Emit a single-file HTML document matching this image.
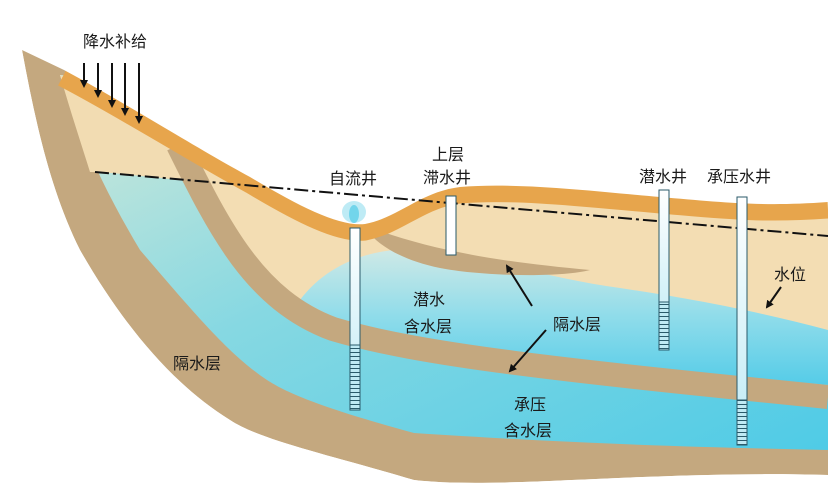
<!DOCTYPE html>
<html><head><meta charset="utf-8"><style>
html,body{margin:0;padding:0;background:#fff;}
svg{display:block;}
text{font-family:"Liberation Sans","Noto Sans CJK SC",sans-serif;fill:#1a1a1a;}
</style></head><body>
<svg width="828" height="500" viewBox="0 0 828 500" xmlns="http://www.w3.org/2000/svg">
<defs>
<linearGradient id="lb" x1="0" y1="0" x2="1" y2="1">
<stop offset="0" stop-color="#d6ead8"/><stop offset="0.45" stop-color="#86d8e2"/><stop offset="1" stop-color="#4fcbe6"/>
</linearGradient>
<linearGradient id="ub" x1="0" y1="0" x2="0" y2="1">
<stop offset="0" stop-color="#cfe9e6"/><stop offset="0.5" stop-color="#8fdcea"/><stop offset="1" stop-color="#55cce8"/>
</linearGradient>
<linearGradient id="well" x1="0" y1="0" x2="0" y2="1">
<stop offset="0" stop-color="#ffffff"/><stop offset="1" stop-color="#bdeaf5"/>
</linearGradient>
<pattern id="scr" width="10" height="4" patternUnits="userSpaceOnUse">
<rect width="10" height="4" fill="#bfeaf4"/><line x1="0" y1="0.5" x2="10" y2="0.5" stroke="#2a5a6a" stroke-width="1"/>
</pattern>
<marker id="ah" markerWidth="8" markerHeight="8" refX="6" refY="4" orient="auto" markerUnits="userSpaceOnUse">
<path d="M0,0 L8,4 L0,8 Z" fill="#111"/>
</marker>
</defs>
<path d="M22,50 L828,150 L828,475 C650,470 500,490 414,480 C330,455 260,440 230,420 C170,383 120,320 80,250 C50,190 35,120 22,50 Z" fill="#c4a87f"/>
<path d="M60,75 L828,150 L828,450 C700,447 600,445 414,433 C330,410 290,395 267,380 C230,355 200,320 140,250 C110,200 80,140 60,75 Z" fill="url(#lb)"/>
<path d="M60,75 L200,150 C190,160 185,170 180,180 C140,176 110,172 90,172 C80,140 70,110 60,75 Z" fill="#f2dcb2"/>
<path d="M190,150 C230,230 260,300 333,317 C420,345 560,360 828,385 L828,140 L190,140 Z" fill="#f3ddb3"/>
<path d="M300,300 C330,260 380,245 430,250 C500,262 560,280 620,288 C700,300 760,312 828,330 L828,385 C560,360 420,345 333,317 Z" fill="url(#ub)"/>
<path d="M178,145 C220,230 255,300 333,329 C420,355 560,370 828,397" fill="none" stroke="#c4a87f" stroke-width="24"/>
<path d="M372,228 C430,250 500,262 590,270 C560,278 480,276 440,268 C410,262 385,250 372,236 Z" fill="#c4a87f"/>
<path d="M62,78 C120,108 200,158 250,185 C300,215 340,235 365,232 C400,225 420,200 460,195 C520,190 600,200 660,205 C720,210 760,215 828,210" fill="none" stroke="#e7a54c" stroke-width="17"/>
<path d="M22,50 L64,70 C120,100 200,150 250,177 C300,207 340,227 365,224 C400,217 420,192 460,187 C520,182 600,192 660,197 C720,202 760,207 828,202 L828,0 L0,0 L0,500 L828,500 L828,475 C650,470 500,490 414,480 C330,455 260,440 230,420 C170,383 120,320 80,250 C50,190 35,120 22,50 Z" fill="#fff"/>
<line x1="95" y1="172" x2="828" y2="236" stroke="#111" stroke-width="2" stroke-dasharray="14,4,3,4"/>
<ellipse cx="354" cy="212" rx="12" ry="11" fill="#aee6f2" opacity="0.8"/>
<ellipse cx="354" cy="214" rx="5" ry="9" fill="#5fd0e8" opacity="0.8"/>
<rect x="350" y="228" width="10" height="182" fill="url(#well)" stroke="#2a5a6a" stroke-width="1"/>
<rect x="350" y="345" width="10" height="65" fill="url(#scr)" stroke="#2a5a6a" stroke-width="1"/>
<rect x="446" y="196" width="10" height="59" fill="#fff" stroke="#2a5a6a" stroke-width="1"/>
<rect x="659" y="190" width="10" height="160" fill="url(#well)" stroke="#2a5a6a" stroke-width="1"/>
<rect x="659" y="302" width="10" height="48" fill="url(#scr)" stroke="#2a5a6a" stroke-width="1"/>
<rect x="737" y="197" width="10" height="248" fill="url(#well)" stroke="#2a5a6a" stroke-width="1"/>
<rect x="737" y="400" width="10" height="45" fill="url(#scr)" stroke="#2a5a6a" stroke-width="1"/>
<g stroke="#111" stroke-width="2" marker-end="url(#ah)">
<line x1="84" y1="63" x2="84" y2="86"/>
<line x1="98" y1="63" x2="98" y2="96"/>
<line x1="112" y1="63" x2="112" y2="106"/>
<line x1="125" y1="63" x2="125" y2="114"/>
<line x1="139" y1="63" x2="139" y2="122"/>
<line x1="532" y1="306" x2="507" y2="266"/>
<line x1="546" y1="330" x2="510" y2="371"/>
<line x1="781" y1="287" x2="767" y2="307"/>
</g>
<g font-size="16">
<text x="83" y="47">降水补给</text>
<text x="329" y="184">自流井</text>
<text x="432" y="160">上层</text>
<text x="423" y="183">滞水井</text>
<text x="639" y="182">潜水井</text>
<text x="707" y="182">承压水井</text>
<text x="774" y="280">水位</text>
<text x="413" y="305">潜水</text>
<text x="404" y="332">含水层</text>
<text x="553" y="330">隔水层</text>
<text x="514" y="410">承压</text>
<text x="504" y="436">含水层</text>
<text x="173" y="369">隔水层</text>
</g>
</svg>
</body></html>
